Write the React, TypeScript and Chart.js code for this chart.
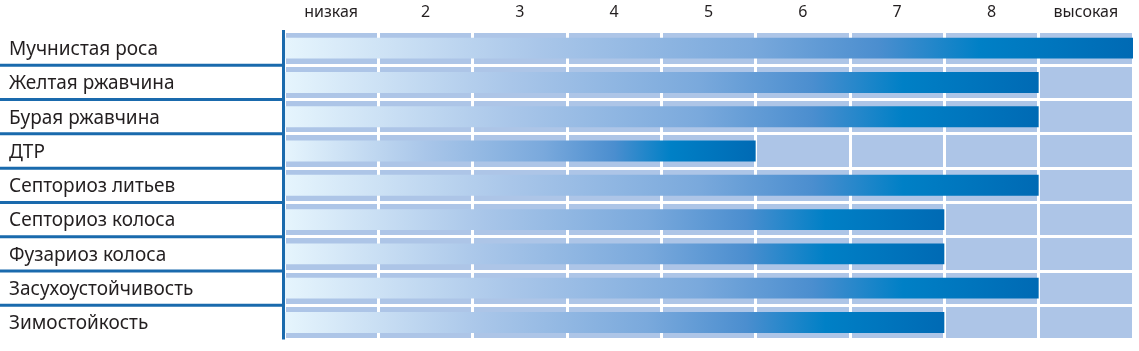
import React, { useEffect, useRef } from "react";
import { Chart, registerables } from "chart.js";

Chart.register(...registerables);

const categories = [
  "Мучнистая роса",
  "Желтая ржавчина",
  "Бурая ржавчина",
  "ДТР",
  "Септориоз литьев",
  "Септориоз колоса",
  "Фузариоз колоса",
  "Засухоустойчивость",
  "Зимостойкость",
];
const values = [9, 8, 8, 5, 8, 7, 7, 8, 7];
const columnLabels = ["низкая", "2", "3", "4", "5", "6", "7", "8", "высокая"];
const scaleMax = 9;

const FONT = "'Noto Sans', 'Open Sans', sans-serif";
const TEXT = "#231f20";
const CELL = "#adc5e7";
const LINE = "#1a6aad";

const chromePlugin = {
  id: "chrome",
  beforeDraw(chart: any) {
    const { ctx, chartArea } = chart;
    if (!chartArea) return;
    ctx.save();
    ctx.fillStyle = CELL;
    ctx.fillRect(chartArea.left, chartArea.top, chartArea.right - chartArea.left, chartArea.bottom - chartArea.top);
    ctx.restore();
  },
  afterDraw(chart: any) {
    const { ctx, chartArea } = chart;
    const ys = chart.scales.y;
    if (!chartArea || !ys) return;
    ctx.save();
    ctx.strokeStyle = LINE;
    ctx.lineWidth = 3;
    for (let i = 0; i < categories.length - 1; i++) {
      const y = (ys.getPixelForValue(i) + ys.getPixelForValue(i + 1)) / 2;
      ctx.beginPath();
      ctx.moveTo(0, y);
      ctx.lineTo(chartArea.left, y);
      ctx.stroke();
    }
    ctx.beginPath();
    ctx.moveTo(chartArea.left - 0.5, chartArea.top - 1);
    ctx.lineTo(chartArea.left - 0.5, chartArea.bottom);
    ctx.stroke();
    ctx.restore();
  },
};

export default function App() {
  const ref = useRef<HTMLCanvasElement | null>(null);

  useEffect(() => {
    if (!ref.current) return;
    const chart = new Chart(ref.current, {
      type: "bar",
      data: {
        labels: categories,
        datasets: [
          {
            data: values,
            xAxisID: "x",
            yAxisID: "y",
            borderWidth: 0,
            barPercentage: 0.61,
            categoryPercentage: 1,
            backgroundColor: (c: any) => {
              const chart = c.chart;
              if (!chart.chartArea || c.type !== "data") return "#4a8ecf";
              const xs = chart.scales.x;
              const x0 = xs.getPixelForValue(0);
              const x1 = xs.getPixelForValue(c.raw);
              const g = chart.ctx.createLinearGradient(x0, 0, x1, 0);
              g.addColorStop(0, "#e6f5fd");
              g.addColorStop(0.3, "#a9c6e9");
              g.addColorStop(0.55, "#7aa9dc");
              g.addColorStop(0.7, "#4b8ecf");
              g.addColorStop(0.82, "#0080c6");
              g.addColorStop(1, "#006ab4");
              return g;
            },
          } as any,
        ],
      },
      options: {
        indexAxis: "y",
        animation: false,
        responsive: false,
        maintainAspectRatio: false,
        layout: { padding: { left: 9, right: 6, top: 0, bottom: 11 } },
        plugins: { legend: { display: false }, tooltip: { enabled: false } },
        scales: {
          x: { type: "linear", min: 0, max: scaleMax, display: false },
          xTop: {
            type: "category",
            axis: "x",
            position: "top",
            labels: columnLabels,
            offset: true,
            grid: { color: "#ffffff", lineWidth: 3, drawTicks: false, offset: true },
            border: { display: false },
            ticks: { color: TEXT, font: { family: FONT, size: 16 }, padding: 9, autoSkip: false, maxRotation: 0 },
            afterFit: (s: any) => {
              s.height = 31;
            },
          } as any,
          y: {
            type: "category",
            offset: true,
            grid: { color: "#ffffff", lineWidth: 3, drawTicks: false, offset: true },
            border: { display: false },
            ticks: { color: TEXT, font: { family: FONT, size: 19 }, crossAlign: "far", padding: 0, autoSkip: false, labelOffset: 1.5 },
            afterFit: (s: any) => {
              s.width = 275;
            },
          } as any,
        },
      } as any,
      plugins: [chromePlugin],
    });
    return () => chart.destroy();
  }, []);

  return (
    <canvas
      ref={ref}
      width={1139}
      height={351}
      style={{ position: "absolute", left: 0, top: 0, width: 1139, height: 351 }}
    />
  );
}
